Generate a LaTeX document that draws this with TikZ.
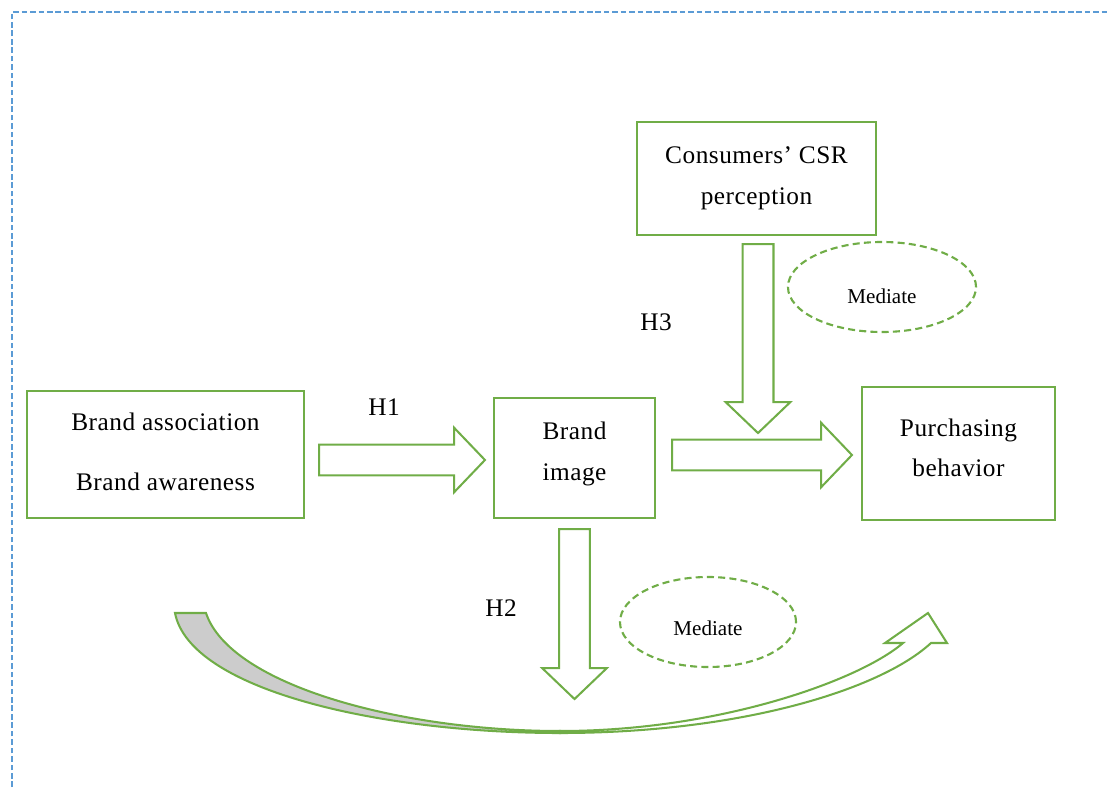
\documentclass[tikz,border=0pt]{standalone}
\usepackage{fontspec}
\setmainfont{Liberation Serif}
\newfontfamily\boxfont{Liberation Serif}[LetterSpace=2]
\usetikzlibrary{calc, positioning, shapes.geometric}
\definecolor{hilight}{RGB}{112,173,71}
\definecolor{frame}{RGB}{91,155,213}
\definecolor{shade}{RGB}{204,204,204}

% block arrow from #1 to #2
\newcommand{\fatarrow}[2]{%
  \draw [fat] let \p1=(#1), \p2=(#2),
    \n1={atan2(\y2-\y1,\x2-\x1)}, \n2={veclen(\x2-\x1,\y2-\y1)} in
    [shift={(\p1)}, rotate=\n1]
    (0pt,-11pt) -- ({\n2-22pt},-11pt) -- ({\n2-22pt},-23pt) -- (\n2,0pt)
    -- ({\n2-22pt},23pt) -- ({\n2-22pt},11pt) -- (0pt,11pt) -- cycle;}

\begin{document}
\begin{tikzpicture}[x=0.025cm, y=-0.025cm]
\tikzstyle{block} = [rectangle, draw=hilight, line width=1.45pt, text=black,
    align=center, font=\boxfont\fontsize{18}{29}\selectfont]
\tikzstyle{fat} = [draw=hilight, line width=1.45pt, fill=white, line join=miter]
\tikzstyle{mediate} = [ellipse, draw=hilight, line width=1.5pt, dash pattern=on 5pt off 3pt,
    inner sep=0pt]
\tikzstyle{medtext} = [font=\fontsize{15}{17}\selectfont]
\tikzstyle{hyp} = [font=\boxfont\fontsize{18}{20}\selectfont]
    \useasboundingbox (0,0) rectangle (1108,787);
    \draw [frame, line width=1.3pt, dash pattern=on 4pt off 2pt] (12,787) -- (12,12) -- (1108,12);

    % Place nodes
    \node [block, minimum width=6.925cm, minimum height=3.175cm, text depth=4pt,
        font=\boxfont\fontsize{18}{42}\selectfont] (assoc) at (165.5,454.5)
        {Brand association\\Brand awareness};
    \node [block, minimum width=4.025cm, minimum height=3cm, text depth=9.5pt] (image)
        at (574.5,458) {Brand\\image};
    \node [block, minimum width=5.975cm, minimum height=2.825cm] (csr) at (756.5,178.5)
        {Consumers’ CSR\\perception};
    \node [block, minimum width=4.825cm, minimum height=3.325cm, text depth=8pt,
        font=\boxfont\fontsize{18}{28}\selectfont] (purch) at (958.5,453.5)
        {Purchasing\\behavior};
    \node [mediate, minimum width=4.7cm, minimum height=2.25cm] (med1) at (882,287) {};
    \node [mediate, minimum width=4.4cm, minimum height=2.25cm] (med2) at (708,622) {};
    \node [medtext] at ($(med1)+(0,9)$) {Mediate};
    \node [medtext] at ($(med2)+(0,6)$) {Mediate};
    \node [hyp] (h1) at (384,407) {H1};
    \node [hyp] (h2) at (501,608) {H2};
    \node [hyp] (h3) at (656,322) {H3};
    \coordinate (meet) at ($(csr.south)+(1.5,197)$);
    \coordinate (low) at ($(image.south)+(0,180)$);

%paths
    \fatarrow{$(assoc.east)+(14,5.5)$}{$(image.west)+(-8,2)$}
    \fatarrow{$(image.east)+(16,-3)$}{$(purch.west)+(-9,1.5)$}
    \fatarrow{$(image.south)+(0,10)$}{low}
    \fatarrow{$(csr.south)+(1.5,8)$}{meet}

    % curved arrow
    \draw [fat, fill=shade] (175,613) .. controls (190,690) and (380,733) .. (560,733)
        -- (560,731) .. controls (400,731) and (230,685) .. (206,613) -- cycle;
    \draw [fat] (560,733) .. controls (740,733) and (880,690) .. (931,643)
        -- (947,643) -- (928,613) -- (885,643) -- (903,643)
        .. controls (860,680) and (720,731) .. (560,731) -- cycle;
\end{tikzpicture}
\end{document}
